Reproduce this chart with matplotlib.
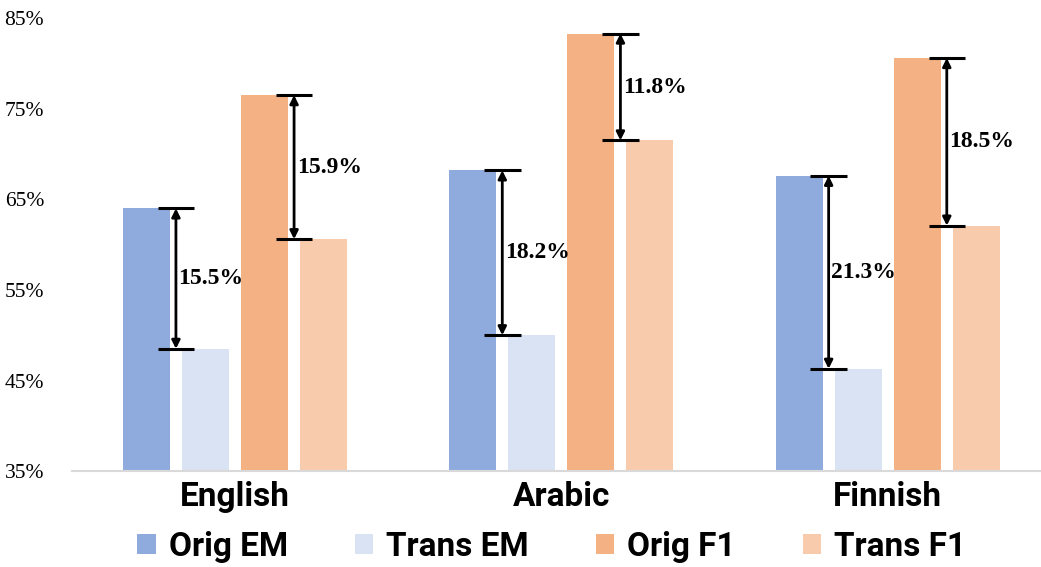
import matplotlib.pyplot as plt
import numpy as np
from matplotlib.font_manager import fontManager

languages = ["English", "Arabic", "Finnish"]
series = ["Orig EM", "Trans EM", "Orig F1", "Trans F1"]
orig_em = [64.0, 68.2, 67.6]
trans_em = [48.5, 50.0, 46.3]
orig_f1 = [76.5, 83.3, 80.6]
trans_f1 = [60.6, 71.5, 62.1]
yticks = [35, 45, 55, 65, 75, 85]

colors = ["#8FAADC", "#DAE3F3", "#F4B183", "#F8CBAD"]

names = {f.name for f in fontManager.ttflist}
sans_bold = ["Liberation Sans Narrow", "Roboto", "DejaVu Sans"]
sans_bold = [f for f in sans_bold if f in names] or ["DejaVu Sans"]
serif = ["Liberation Serif", "DejaVu Serif"]

fig = plt.figure(figsize=(10.41, 5.67), dpi=100)
ax = fig.add_axes([0.069, 0.169, 0.9405, 0.799])

x = np.arange(len(languages))
pitch = 0.181
width = 0.144
values = [orig_em, trans_em, orig_f1, trans_f1]
for k, (name, vals, c) in enumerate(zip(series, values, colors)):
    ax.bar(x + (k - 1.5) * pitch, np.array(vals) - 35, bottom=35, width=width,
           color=c, label=name)

# difference markers between orig and trans bars
cap = 0.056
for i in range(len(languages)):
    for j, (hi, lo) in enumerate([(orig_em[i], trans_em[i]), (orig_f1[i], trans_f1[i])]):
        xa = x[i] + (2 * j - 1) * pitch
        ax.hlines([hi, lo], xa - cap, xa + cap, color="black", lw=2.2, zorder=3)
        ax.annotate("", xy=(xa, hi), xytext=(xa, lo),
                    arrowprops=dict(arrowstyle="<|-|>", color="black", lw=2,
                                    shrinkA=0, shrinkB=0, mutation_scale=12),
                    zorder=4)
        ax.text(xa + 0.008, (hi + lo) / 2, f"{hi - lo:.1f}%", ha="left", va="center",
                fontsize=17, fontweight="bold", family=serif, zorder=5)

ax.set_xlim(-0.5, 2.5)
ax.set_ylim(35, 85)
ax.set_yticks(yticks)
ax.set_yticklabels([f"{t}%" for t in yticks], family=serif, fontsize=15.5)
ax.set_xticks(x)
ax.set_xticklabels(languages, fontsize=24, fontweight="bold", family=sans_bold)
ax.tick_params(axis="both", length=0)
ax.tick_params(axis="y", pad=20)
ax.tick_params(axis="x", pad=7)
for s in ["top", "right", "left"]:
    ax.spines[s].set_visible(False)
ax.spines["bottom"].set_color("#D9D9D9")
ax.spines["bottom"].set_linewidth(1.5)

fig.legend(loc="center", bbox_to_anchor=(0.53, 0.035), ncol=4, frameon=False,
           prop=dict(family=sans_bold, weight="bold", size=24),
           handlelength=0.55, handleheight=0.55, handletextpad=0.4, columnspacing=2.0)

fig.savefig("out.png", dpi=100)
